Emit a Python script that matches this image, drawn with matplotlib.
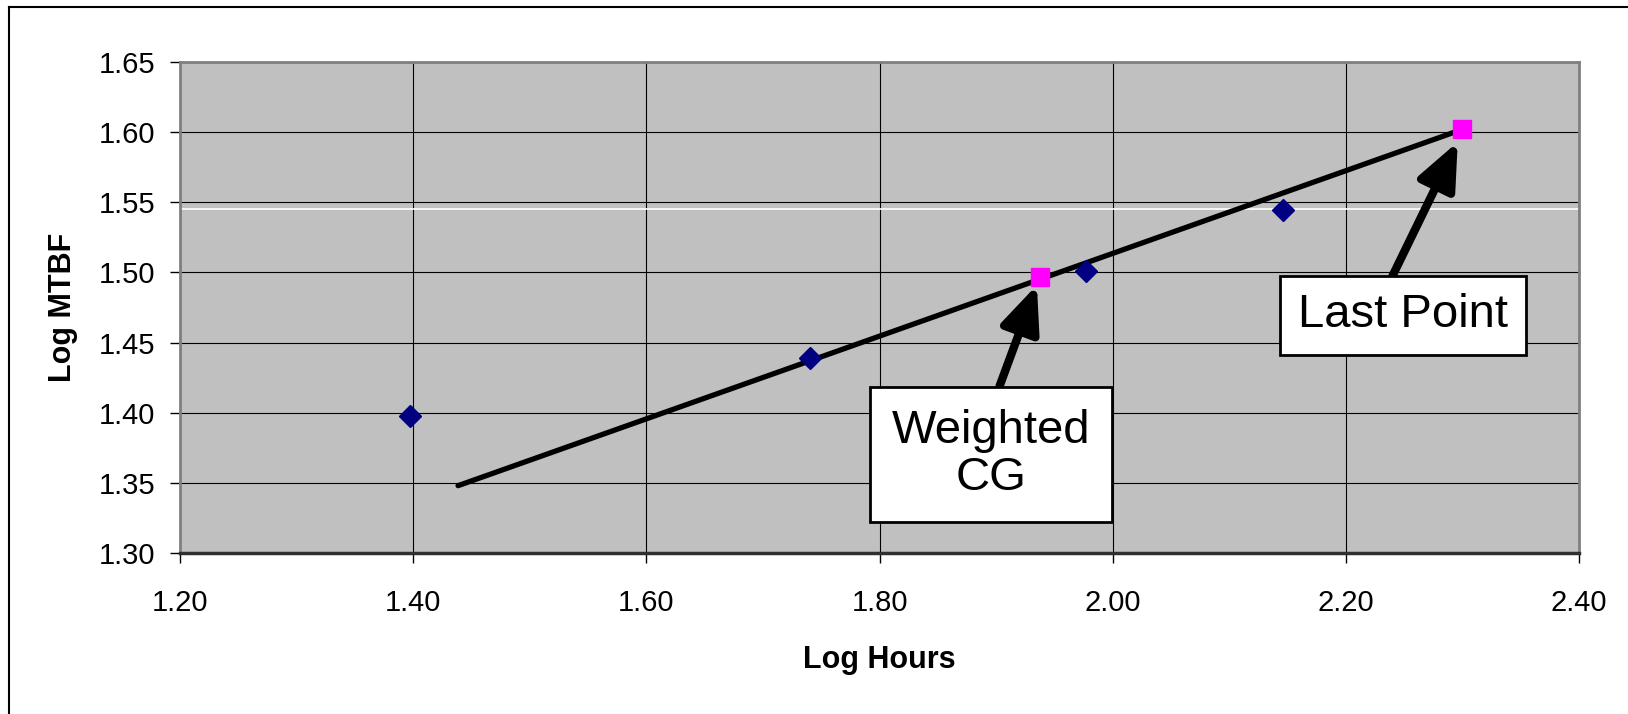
import matplotlib
matplotlib.use('Agg')
import matplotlib.pyplot as plt
from matplotlib.lines import Line2D

plt.rcParams['font.family'] = ['Liberation Sans', 'DejaVu Sans']

# data
hours = [1.397, 1.740, 1.977, 2.146]
mtbf = [1.398, 1.439, 1.501, 1.5445]
key_hours = [1.938, 2.300]      # weighted CG, last point
key_mtbf = [1.497, 1.602]
fit_hours = [1.4385, 2.300]
fit_mtbf = [1.348, 1.602]
white_level = 1.5452

xticks = [1.20, 1.40, 1.60, 1.80, 2.00, 2.20, 2.40]
yticks = [1.30, 1.35, 1.40, 1.45, 1.50, 1.55, 1.60, 1.65]

fig = plt.figure(figsize=(16.28, 7.14), dpi=100)
fig.patch.set_facecolor('white')
ax = fig.add_axes([180 / 1628, 1 - 553 / 714, 1399 / 1628, 491 / 714])
ax.set_facecolor('#C0C0C0')

ax.set_xlim(1.20, 2.40)
ax.set_ylim(1.30, 1.65)
ax.set_xticks(xticks)
ax.set_yticks(yticks)
ax.set_xticklabels([f'{v:.2f}' for v in xticks])
ax.set_yticklabels([f'{v:.2f}' for v in yticks])
ax.tick_params(direction='out', length=7, width=1, colors='black', labelsize=21)
ax.tick_params(axis='y', pad=11)
ax.tick_params(axis='x', pad=19)
ax.grid(True, color='black', linewidth=0.8)
ax.set_axisbelow(True)
for side in ['top', 'right', 'left']:
    ax.spines[side].set_color('#808080')
    ax.spines[side].set_linewidth(2)
ax.spines['bottom'].set_color('#303030')
ax.spines['bottom'].set_linewidth(2.5)

ax.axhline(white_level, color='white', linewidth=1.2, zorder=1.5)

ax.plot(fit_hours, fit_mtbf, color='black', linewidth=3.8, solid_capstyle='round', zorder=3)
ax.plot(hours, mtbf, linestyle='none', marker='D', markersize=11, color='#000080', zorder=4)
ax.plot(key_hours, key_mtbf, linestyle='none', marker='s', markersize=13, color='#FF00FF', zorder=4)

arrow = dict(arrowstyle='-|>,head_length=1.4,head_width=0.6', lw=6, color='black',
             mutation_scale=20, shrinkA=0, shrinkB=0)

ax.annotate('', xy=(1.935, 1.491), xytext=(1.903, 1.419), arrowprops=arrow, zorder=5)
ax.annotate('', xy=(2.296, 1.593), xytext=(2.240, 1.4975), arrowprops=arrow, zorder=5)
ax.text(1.8956, 1.3702, 'Weighted\nCG', fontsize=34, ha='center', va='center',
        linespacing=1.1,
        bbox=dict(boxstyle='square,pad=0.47', facecolor='white', edgecolor='black', linewidth=2),
        zorder=6)
ax.text(2.249, 1.4693, 'Last Point', fontsize=34, ha='center', va='center',
        bbox=dict(boxstyle='square,pad=0.38', facecolor='white', edgecolor='black', linewidth=2),
        zorder=6)

ax.set_xlabel('Log Hours', fontsize=22, fontweight='bold', labelpad=20)
ax.set_ylabel('Log MTBF', fontsize=22, fontweight='bold', labelpad=15)

# outer chart frame (left and top edges visible)
fig.add_artist(Line2D([9 / 1628, 9 / 1628], [0, 1 - 7 / 714], transform=fig.transFigure,
                      color='black', linewidth=1.5))
fig.add_artist(Line2D([9 / 1628, 1], [1 - 7 / 714, 1 - 7 / 714], transform=fig.transFigure,
                      color='black', linewidth=1.5))

fig.savefig('out.png', dpi=100)
